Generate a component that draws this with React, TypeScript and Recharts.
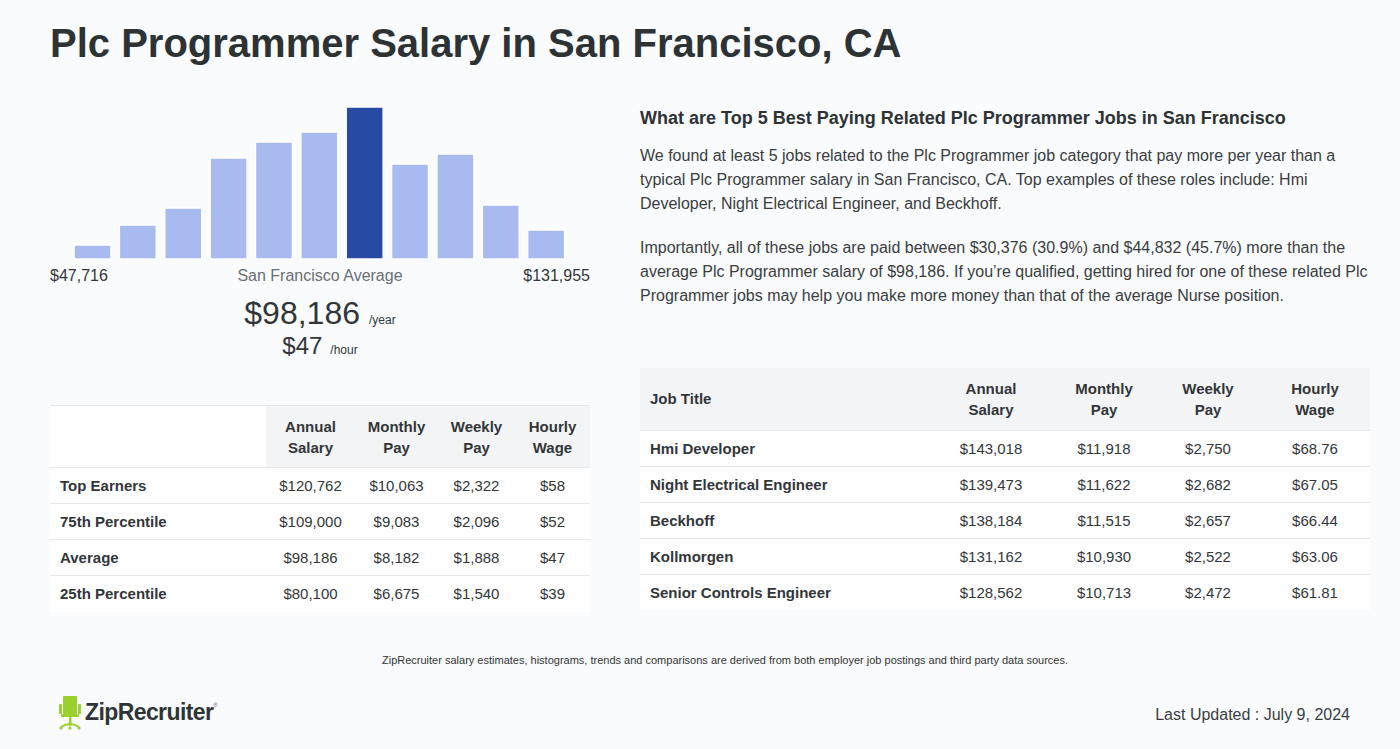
import { BarChart, Bar, XAxis, YAxis, Cell } from "recharts";

// histogram bins (relative counts)
const binCounts = [14, 34, 51, 101, 117, 127, 152, 95, 105, 54, 29];
const highlightBin = 6;
const rangeLow = "$47,716";
const rangeHigh = "$131,955";

const summaryRows = ["Top Earners", "75th Percentile", "Average", "25th Percentile"];
const summaryAnnual = ["$120,762", "$109,000", "$98,186", "$80,100"];
const summaryMonthly = ["$10,063", "$9,083", "$8,182", "$6,675"];
const summaryWeekly = ["$2,322", "$2,096", "$1,888", "$1,540"];
const summaryHourly = ["$58", "$52", "$47", "$39"];

const jobTitles = ["Hmi Developer", "Night Electrical Engineer", "Beckhoff", "Kollmorgen", "Senior Controls Engineer"];
const jobAnnual = ["$143,018", "$139,473", "$138,184", "$131,162", "$128,562"];
const jobMonthly = ["$11,918", "$11,622", "$11,515", "$10,930", "$10,713"];
const jobWeekly = ["$2,750", "$2,682", "$2,657", "$2,522", "$2,472"];
const jobHourly = ["$68.76", "$67.05", "$66.44", "$63.06", "$61.81"];

const FONT = '"Liberation Sans", Arial, Helvetica, sans-serif';
const TEXT = "#333639";
const LINE = "#e6e8eb";
const HEAD_BG = "#f3f4f6";

function Histogram() {
  const data = binCounts.map((v, i) => ({ bin: i, count: v }));
  return (
    <BarChart width={499} height={152} data={data} margin={{ top: 0, right: 0, bottom: 0, left: 0 }}>
      <XAxis dataKey="bin" hide />
      <YAxis hide domain={[0, 152]} />
      <Bar dataKey="count" barSize={37} isAnimationActive={false} stroke="#ffffff" strokeWidth={1.5}>
        {data.map((d) => (
          <Cell key={d.bin} fill={d.bin === highlightBin ? "#274aa5" : "#a8bbf1"} />
        ))}
      </Bar>
    </BarChart>
  );
}

const th: React.CSSProperties = { fontWeight: 700, fontSize: 15, lineHeight: "21px", textAlign: "center", color: TEXT };

function SummaryTable() {
  const cols = [216, 89, 83, 77, 75];
  return (
    <table style={{ position: "absolute", left: 50, top: 405, width: 540, borderCollapse: "collapse", fontSize: 15, color: TEXT, background: "#fff" }}>
      <colgroup>{cols.map((w, i) => <col key={i} style={{ width: w }} />)}</colgroup>
      <thead>
        <tr style={{ height: 62, borderTop: `1px solid ${LINE}` }}>
          <th style={{ background: "#fff" }} />
          {[["Annual", "Salary"], ["Monthly", "Pay"], ["Weekly", "Pay"], ["Hourly", "Wage"]].map((h) => (
            <th key={h[0]} style={{ ...th, background: HEAD_BG, padding: 0 }}>
              {h[0]}<br />{h[1]}
            </th>
          ))}
        </tr>
      </thead>
      <tbody>
        {summaryRows.map((r, i) => (
          <tr key={r} style={{ height: 36, borderTop: `1px solid ${LINE}` }}>
            <td style={{ fontWeight: 700, paddingLeft: 10 }}>{r}</td>
            <td style={{ textAlign: "center" }}>{summaryAnnual[i]}</td>
            <td style={{ textAlign: "center" }}>{summaryMonthly[i]}</td>
            <td style={{ textAlign: "center" }}>{summaryWeekly[i]}</td>
            <td style={{ textAlign: "center" }}>{summaryHourly[i]}</td>
          </tr>
        ))}
      </tbody>
    </table>
  );
}

function JobsTable() {
  const cols = [290, 122, 104, 104, 110];
  return (
    <table style={{ position: "absolute", left: 640, top: 368, width: 730, borderCollapse: "collapse", fontSize: 15, color: TEXT, background: "#fff" }}>
      <colgroup>{cols.map((w, i) => <col key={i} style={{ width: w }} />)}</colgroup>
      <thead>
        <tr style={{ height: 62, background: HEAD_BG }}>
          <th style={{ ...th, textAlign: "left", paddingLeft: 10 }}>Job Title</th>
          {[["Annual", "Salary"], ["Monthly", "Pay"], ["Weekly", "Pay"], ["Hourly", "Wage"]].map((h) => (
            <th key={h[0]} style={{ ...th, padding: 0 }}>
              {h[0]}<br />{h[1]}
            </th>
          ))}
        </tr>
      </thead>
      <tbody>
        {jobTitles.map((r, i) => (
          <tr key={r} style={{ height: 36, borderTop: `1px solid ${LINE}` }}>
            <td style={{ fontWeight: 700, paddingLeft: 10 }}>{r}</td>
            <td style={{ textAlign: "center" }}>{jobAnnual[i]}</td>
            <td style={{ textAlign: "center" }}>{jobMonthly[i]}</td>
            <td style={{ textAlign: "center" }}>{jobWeekly[i]}</td>
            <td style={{ textAlign: "center" }}>{jobHourly[i]}</td>
          </tr>
        ))}
      </tbody>
    </table>
  );
}

function Logo() {
  return (
    <div style={{ position: "absolute", left: 58, top: 694, display: "flex", alignItems: "center" }}>
      <svg width={24} height={36} viewBox="0 0 24 36">
        <rect x={5} y={2} width={14} height={18} rx={1} fill="#9bd12f" />
        <rect x={1} y={10} width={3} height={10} rx={1} fill="#9bd12f" />
        <rect x={20} y={10} width={3} height={10} rx={1} fill="#9bd12f" />
        <rect x={3} y={20} width={18} height={3} rx={1} fill="#9bd12f" />
        <rect x={11} y={23} width={2.5} height={9} fill="#9bd12f" />
        <path d="M3 33 Q12 27 21 33" stroke="#9bd12f" strokeWidth={2} fill="none" />
        <circle cx={3} cy={34} r={1.6} fill="#9bd12f" />
        <circle cx={21} cy={34} r={1.6} fill="#9bd12f" />
        <circle cx={12} cy={34} r={1.6} fill="#9bd12f" />
      </svg>
      <span style={{ marginLeft: 3, fontSize: 23, fontWeight: 700, color: "#2f3437", letterSpacing: -0.6 }}>ZipRecruiter</span>
      <span style={{ fontSize: 6, color: "#555", alignSelf: "flex-start", marginTop: 8 }}>®</span>
    </div>
  );
}

export default function App() {
  return (
    <div style={{ position: "absolute", left: 0, top: 0, width: 1400, height: 749, background: "#f9fbfd", fontFamily: FONT, color: TEXT, overflow: "hidden" }}>
      <div style={{ position: "absolute", left: 50, top: 21, fontSize: 40, fontWeight: 700, color: "#2d3235", whiteSpace: "nowrap" }}>
        Plc Programmer Salary in San Francisco, CA
      </div>

      <div style={{ position: "absolute", left: 70, top: 107 }}>
        <Histogram />
      </div>
      <div style={{ position: "absolute", left: 50, top: 267, width: 540, height: 22, fontSize: 16 }}>
        <span style={{ position: "absolute", left: 0 }}>{rangeLow}</span>
        <span style={{ position: "absolute", left: 0, width: 540, textAlign: "center", color: "#6b6f73" }}>San Francisco Average</span>
        <span style={{ position: "absolute", right: 0 }}>{rangeHigh}</span>
      </div>
      <div style={{ position: "absolute", left: 50, top: 295, width: 540, textAlign: "center", whiteSpace: "nowrap" }}>
        <span style={{ fontSize: 32 }}>$98,186</span>
        <span style={{ fontSize: 12, marginLeft: 9 }}>/year</span>
      </div>
      <div style={{ position: "absolute", left: 50, top: 332, width: 540, textAlign: "center", whiteSpace: "nowrap" }}>
        <span style={{ fontSize: 24 }}>$47</span>
        <span style={{ fontSize: 12, marginLeft: 8 }}>/hour</span>
      </div>

      <SummaryTable />

      <div style={{ position: "absolute", left: 640, top: 108, fontSize: 18, fontWeight: 700, color: "#2d3235", whiteSpace: "nowrap" }}>
        What are Top 5 Best Paying Related Plc Programmer Jobs in San Francisco
      </div>
      <div style={{ position: "absolute", left: 640, top: 144, width: 740, fontSize: 16, lineHeight: "24px", color: "#3a3d40", whiteSpace: "nowrap" }}>
        We found at least 5 jobs related to the Plc Programmer job category that pay more per year than a<br />
        typical Plc Programmer salary in San Francisco, CA. Top examples of these roles include: Hmi<br />
        Developer, Night Electrical Engineer, and Beckhoff.
      </div>
      <div style={{ position: "absolute", left: 640, top: 236, width: 740, fontSize: 16, lineHeight: "24px", color: "#3a3d40", whiteSpace: "nowrap" }}>
        Importantly, all of these jobs are paid between $30,376 (30.9%) and $44,832 (45.7%) more than the<br />
        average Plc Programmer salary of $98,186. If you’re qualified, getting hired for one of these related Plc<br />
        Programmer jobs may help you make more money than that of the average Nurse position.
      </div>

      <JobsTable />

      <div style={{ position: "absolute", left: 0, width: 1450, top: 654, textAlign: "center", fontSize: 11, color: "#333" }}>
        ZipRecruiter salary estimates, histograms, trends and comparisons are derived from both employer job postings and third party data sources.
      </div>

      <Logo />
      <div style={{ position: "absolute", right: 50, top: 706, fontSize: 16, color: "#3a3d40" }}>Last Updated : July 9, 2024</div>
    </div>
  );
}
